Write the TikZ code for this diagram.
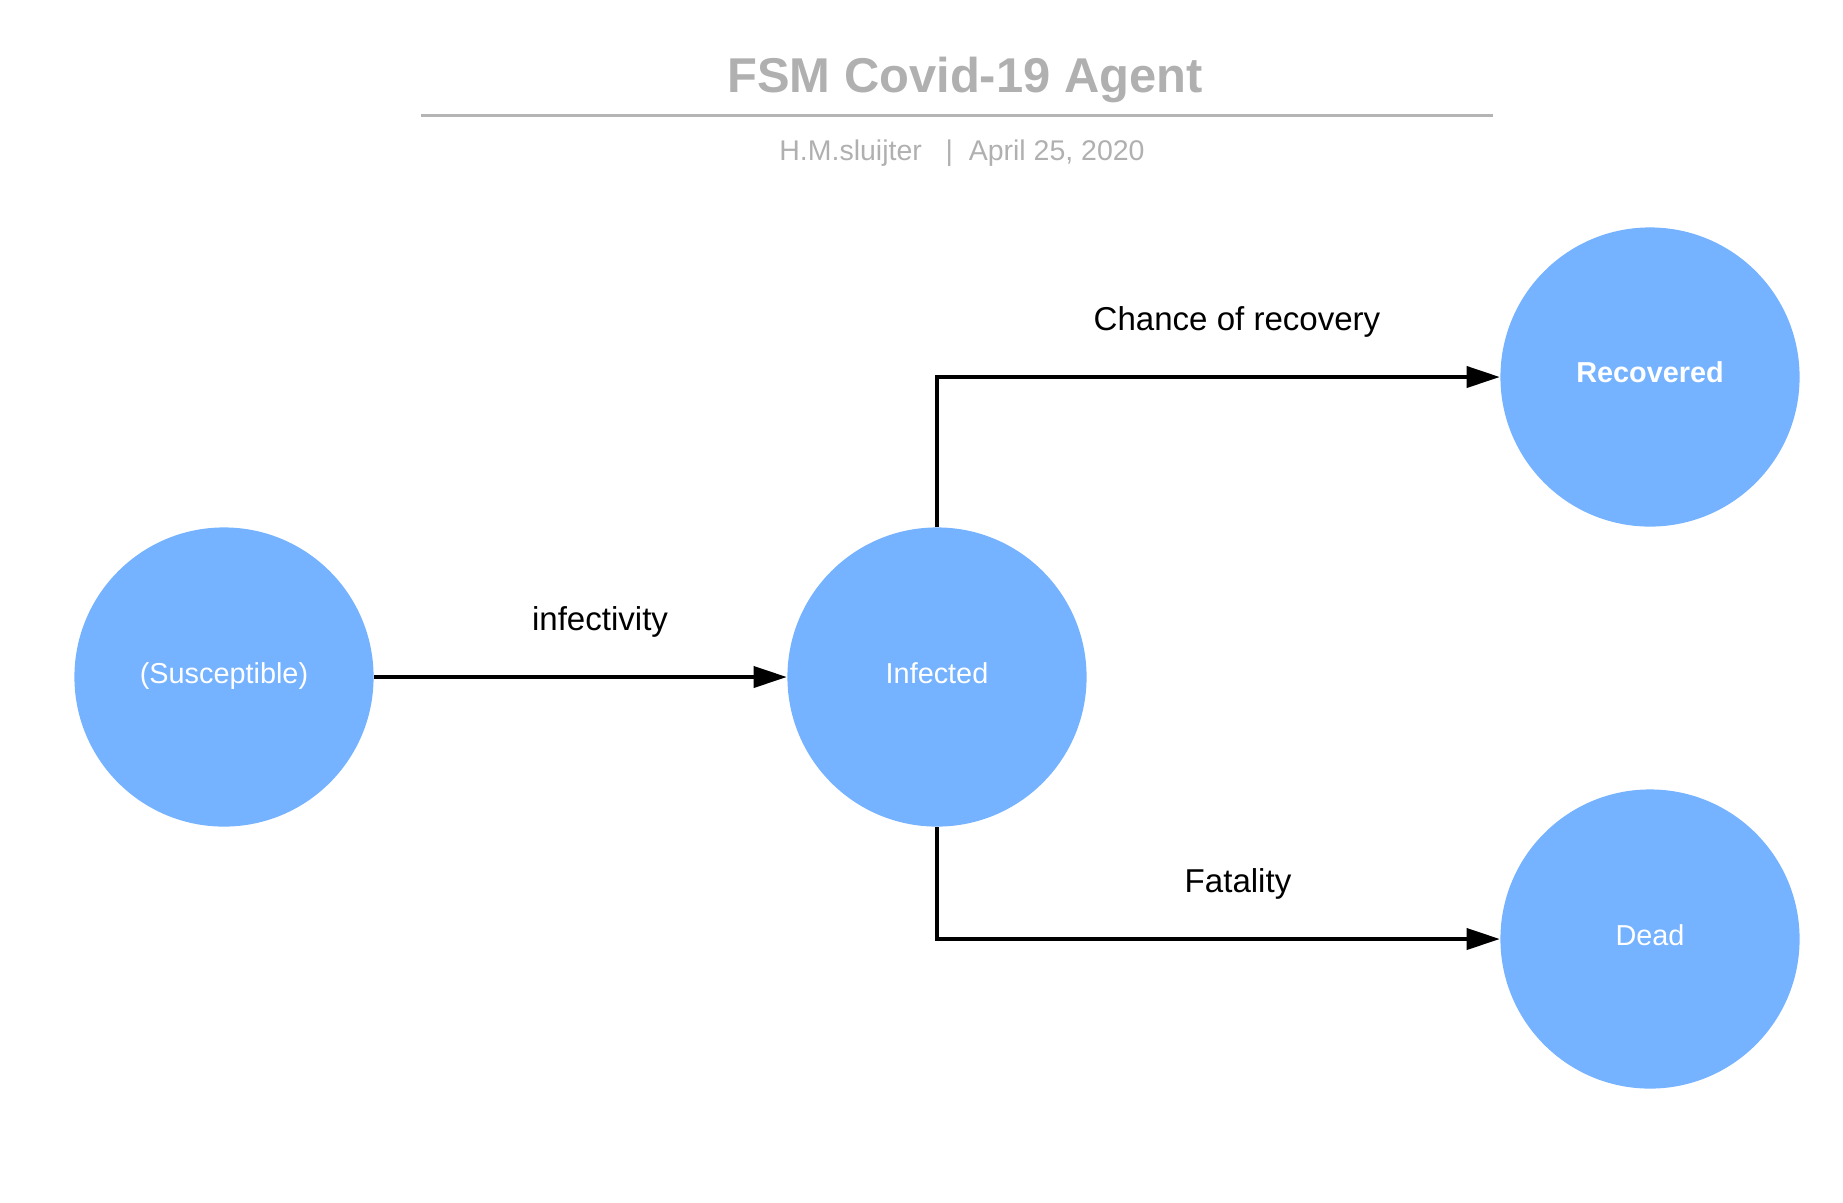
\documentclass[tikz,border=0pt]{standalone}
\usepackage{fontspec}
\setmainfont{Liberation Sans}
\usetikzlibrary{arrows.meta,positioning}
\definecolor{StateBlue}{RGB}{117,178,255}
\definecolor{TitleGray}{RGB}{176,176,176}
\definecolor{LineGray}{RGB}{180,180,180}
\tikzset{
  state/.style={circle,fill=StateBlue,minimum size=2.99cm,inner sep=0pt,
    text=white,font=\fontsize{8.2}{10}\selectfont,text height=5.9pt,
    text depth=2.5pt},
  statebold/.style={state,font=\fontsize{8.2}{10}\selectfont\bfseries},
  lbl/.style={anchor=base,font=\fontsize{9.4}{11}\selectfont},
  arrow/.style={-{Triangle[length=9.4pt,width=6pt]},line width=1pt,black}
}

\begin{document}
\begin{tikzpicture}[x=0.01cm,y=-0.01cm]

\useasboundingbox (0,0) rectangle (1843,1202);

\node[
  anchor=base,
  text=TitleGray,
  font=\fontsize{13.9}{16}\selectfont\bfseries
] (title) at (965,92) {FSM Covid-19 Agent};

\draw[
  line width=0.85pt,
  LineGray
]
(421,115.5) coordinate (ruleL) -- (1493,115.5) coordinate (ruleR);

\node[
  anchor=base,
  text=TitleGray,
  font=\fontsize{8.1}{10}\selectfont
] (byline) at (962,160) {H.M.sluijter\ \ \ |\ \ April 25, 2020};

\node[state] (susceptible) at (224,677) {(Susceptible)};
\node[state] (infected) at (937,677) {Infected};
\node[statebold] (recovered) at (1650,377) {Recovered};
\node[state] (dead) at (1650,939) {Dead};

\draw[arrow] (susceptible) -- (infected);
\draw[arrow] (infected.north) |- (recovered.west);
\draw[arrow] (infected.south) |- (dead.west);

\node[lbl] (infectivity) at (600,630) {infectivity};
\node[lbl] (chance) at (1237,330) {Chance of recovery};
\node[lbl] (fatality) at (1238,892) {Fatality};

\end{tikzpicture}
\end{document}
